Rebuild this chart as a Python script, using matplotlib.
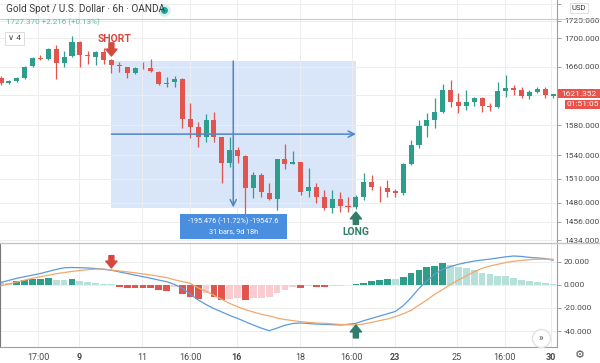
import matplotlib
matplotlib.use('Agg')
import matplotlib.pyplot as plt
from matplotlib.patches import Rectangle
from matplotlib.lines import Line2D
from matplotlib.ticker import FuncFormatter, NullLocator, FixedLocator

plt.rcParams['font.family'] = ['Roboto', 'DejaVu Sans']

# Gold Spot / USD, 6h candles (OANDA)
opens = [1644.0, 1637.5, 1639.8, 1644.0, 1660.7, 1672.0, 1670.6, 1684.7, 1664.9, 1674.8,
         1694.7, 1676.2, 1673.4, 1680.5, 1669.2, 1662.1, 1659.3, 1650.9, 1657.9, 1657.9,
         1652.3, 1635.7, 1638.4, 1642.6, 1588.1, 1577.4, 1564.1, 1586.7, 1564.1, 1530.2,
         1547.1, 1539.3, 1498.3, 1514.8, 1492.0, 1484.5, 1535.4, 1529.0, 1531.5, 1494.5,
         1499.6, 1487.0, 1473.2, 1484.5, 1475.7, 1474.5, 1487.0, 1505.9, 1499.6, 1498.3,
         1494.5, 1492.0, 1528.9, 1553.6, 1578.7, 1586.7, 1597.5, 1627.4, 1611.0, 1605.6,
         1611.0, 1616.4, 1605.6, 1604.2, 1626.0, 1630.2, 1627.4, 1619.2, 1624.6, 1628.8,
         1619.9]
highs = [1646.8, 1641.0, 1645.4, 1660.7, 1673.4, 1676.0, 1686.1, 1690.4, 1682.0, 1703.0,
         1696.0, 1681.9, 1681.9, 1686.1, 1670.6, 1666.3, 1660.0, 1659.3, 1666.3, 1670.6,
         1653.7, 1645.4, 1646.8, 1644.0, 1609.6, 1584.0, 1594.8, 1597.5, 1564.5, 1564.1,
         1551.0, 1540.6, 1518.6, 1517.4, 1504.6, 1536.0, 1555.0, 1545.8, 1532.0, 1523.8,
         1504.6, 1495.8, 1495.8, 1493.3, 1487.0, 1489.0, 1517.4, 1514.8, 1500.5, 1508.4,
         1497.1, 1530.2, 1560.2, 1586.7, 1596.1, 1616.4, 1635.7, 1641.2, 1623.3, 1627.4,
         1617.8, 1617.8, 1609.6, 1638.4, 1648.0, 1634.3, 1631.5, 1627.4, 1631.5, 1631.5,
         1622.5]
lows = [1634.3, 1636.0, 1638.4, 1643.0, 1659.3, 1669.0, 1669.2, 1642.6, 1659.0, 1673.4,
        1659.3, 1663.5, 1662.1, 1663.5, 1650.9, 1652.3, 1644.0, 1649.5, 1656.5, 1652.3,
        1634.3, 1631.5, 1631.5, 1576.0, 1562.8, 1551.0, 1557.5, 1557.5, 1504.6, 1525.1,
        1530.2, 1462.1, 1485.7, 1487.0, 1483.2, 1470.8, 1522.5, 1528.5, 1489.5, 1487.0,
        1479.5, 1470.8, 1467.1, 1468.3, 1468.3, 1472.0, 1483.2, 1495.8, 1480.7, 1487.0,
        1487.0, 1489.5, 1527.6, 1549.7, 1564.1, 1576.0, 1596.1, 1604.2, 1596.1, 1600.2,
        1605.6, 1597.5, 1598.8, 1603.0, 1617.8, 1620.5, 1616.4, 1615.1, 1623.3, 1616.4,
        1616.4]
closes = [1637.1, 1640.0, 1644.0, 1659.3, 1672.0, 1670.6, 1684.7, 1664.9, 1673.4, 1694.7,
          1676.2, 1674.8, 1680.5, 1669.2, 1662.1, 1660.7, 1650.9, 1657.9, 1657.4, 1653.7,
          1635.7, 1637.1, 1642.6, 1588.1, 1577.4, 1564.1, 1586.7, 1564.1, 1530.2, 1547.1,
          1539.3, 1498.3, 1514.8, 1493.3, 1484.5, 1535.4, 1528.9, 1531.5, 1493.3, 1499.6,
          1487.0, 1473.2, 1484.5, 1475.7, 1474.5, 1487.0, 1505.9, 1499.6, 1499.0, 1493.3,
          1492.0, 1528.9, 1553.6, 1578.7, 1586.7, 1597.5, 1627.4, 1611.0, 1605.6, 1611.0,
          1616.4, 1605.6, 1604.2, 1626.0, 1630.2, 1627.4, 1619.2, 1624.6, 1628.8, 1620.5,
          1621.352]

# MACD panel
macd = [2.3, 4.0, 5.8, 7.2, 8.6, 10.0, 11.8, 13.5, 15.0, 15.2,
        15.0, 14.8, 14.3, 13.6, 12.8, 11.4, 10.0, 8.6, 7.2, 5.8,
        4.3, 2.9, 0.5, -2.9, -8.0, -13.0, -17.0, -20.5, -23.5, -26.5,
        -29.0, -32.0, -34.8, -37.5, -39.7, -37.5, -35.0, -33.5, -33.0, -33.5,
        -34.0, -34.2, -34.5, -34.8, -34.2, -33.3, -31.0, -29.0, -27.0, -25.0,
        -23.0, -18.0, -11.0, -3.0, 3.5, 9.5, 13.5, 16.0, 18.0, 19.5,
        20.8, 21.7, 22.5, 23.5, 24.5, 25.2, 24.8, 24.0, 23.5, 23.0,
        21.5]
signal = [-0.6, 1.0, 2.6, 4.2, 5.8, 7.2, 8.5, 9.8, 10.8, 11.8,
          12.6, 13.3, 13.8, 13.9, 13.0, 12.2, 11.4, 10.6, 9.6, 8.7,
          7.6, 6.4, 4.5, 3.0, 1.5, -2.5, -5.5, -9.0, -12.5, -16.0,
          -18.9, -21.5, -23.5, -25.5, -26.8, -28.8, -30.0, -31.0, -31.9, -32.5,
          -33.0, -33.3, -33.8, -34.3, -34.6, -34.8, -33.8, -32.5, -31.0, -29.5,
          -27.5, -25.0, -22.0, -17.5, -13.0, -8.0, -4.0, 0.5, 4.3, 8.0,
          11.5, 14.5, 16.5, 18.0, 19.5, 20.6, 21.4, 22.0, 22.4, 22.5,
          22.4]
hist = [2.5, 2.0, 3.2, 4.3, 5.0, 5.3, 6.1, 4.6, 4.3, 5.2,
        3.2, 2.3, 1.7, 1.2, 0.5, -1.4, -2.4, -2.6, -2.7, -2.8,
        -4.3, -5.5, -2.0, -7.8, -10.7, -12.2, -7.2, -10.7, -12.8, -12.2,
        -11.6, -12.8, -11.3, -11.0, -10.7, -7.2, -4.3, -1.8, -2.2, -1.2,
        -1.4, -2.0, -1.0, -0.6, -0.3, 0.6, 1.7, 3.2, 4.3, 5.4,
        5.1, 7.2, 10.1, 13.3, 15.4, 16.8, 18.8, 17.7, 15.9, 14.8,
        13.0, 10.7, 9.6, 8.1, 7.5, 6.1, 4.6, 3.8, 2.3, 1.7,
        0.9]

tick_pos = [4.7, 9.9, 17.9, 24.0, 29.9, 37.9, 44.5, 50.0, 57.8, 63.9, 69.7]
tick_labels = ['17:00', '9', '11', '16:00', '16', '18', '16:00', '23', '25', '16:00', '30']
bold_labels = ['9', '16', '23', '30']

price_ticks = [1750, 1725, 1700, 1660, 1620, 1580, 1540, 1510, 1480, 1456, 1434]
hidden_price_labels = [1750, 1620]   # covered by the USD box and the last-price tag
macd_ticks = [20, 0, -20, -40]

last_price = 1621.352
header_price = 1727.37
short_bar = 14
long_bar = 45
measure_top, measure_bottom, measure_mid = 1667.7, 1473.2, 1568.0

UP, DOWN = '#2e9e8c', '#e2554e'
UP_LIGHT, DOWN_LIGHT = '#b6e0da', '#f9cdd0'
GRID = '#ededed'
AXIS_TXT = '#4a4a4a'
MEASURE = '#4f86c8'

W, H = 600, 363


def fx(px):
    return px / W


def fy(py):
    return 1 - py / H


def price_fmt(v, _):
    if round(v) in hidden_price_labels:
        return ''
    return f'{v:.3f}'


fig = plt.figure(figsize=(6, 3.63), dpi=100)
ax = fig.add_axes([0, fy(242), fx(557), 242 / H])
ax2 = fig.add_axes([0, fy(347), fx(557), (347 - 243) / H])

x = list(range(len(opens)))

# --- candles ---
colors = [UP if c >= o else DOWN for o, c in zip(opens, closes)]
bottoms = [min(o, c) for o, c in zip(opens, closes)]
heights = [max(abs(c - o), 0.9) for o, c in zip(opens, closes)]
ax.vlines(x, lows, highs, colors=colors, lw=0.9, zorder=3)
ax.bar(x, heights, bottom=bottoms, width=0.64, color=colors, linewidth=0, zorder=4)

ax.set_yscale('log')
ax.set_ylim(1431.6, 1755.8)
ax.set_xlim(-0.127, 70.5)
ax.yaxis.set_major_locator(FixedLocator(price_ticks))
ax.yaxis.set_minor_locator(NullLocator())
ax.yaxis.set_major_formatter(FuncFormatter(price_fmt))
ax.yaxis.tick_right()
ax.tick_params(axis='y', labelsize=6, labelcolor=AXIS_TXT, color='#9e9e9e', length=3, width=0.7, pad=2)
ax.set_xticks(tick_pos)
ax.tick_params(axis='x', length=0, labelbottom=False)
ax.grid(True, color=GRID, lw=0.7, zorder=0)
for s in ['top', 'left', 'bottom']:
    ax.spines[s].set_visible(False)
ax.spines['right'].set_color('#9e9e9e')
ax.spines['right'].set_linewidth(0.8)

# last price line of header
ax.axhline(header_price, xmax=W / 557, color='#a6dcd4', lw=0.8, clip_on=False, zorder=2)

# measurement tool
ax.add_patch(Rectangle((short_bar, measure_bottom), long_bar - short_bar, measure_top - measure_bottom,
                       facecolor='#d9e5f8', edgecolor='none', zorder=1))
mid_x = (short_bar + long_bar) / 2 - 0.05
ax.annotate('', xy=(mid_x, measure_bottom + 0.8), xytext=(mid_x, measure_top),
            arrowprops=dict(arrowstyle='->', color=MEASURE, lw=1.1, shrinkA=0, shrinkB=0, mutation_scale=11),
            zorder=5)
ax.annotate('', xy=(long_bar, measure_mid), xytext=(short_bar, measure_mid),
            arrowprops=dict(arrowstyle='->', color=MEASURE, lw=1.1, shrinkA=0, shrinkB=0, mutation_scale=11),
            zorder=5)

# SHORT / LONG marks
ax.text(short_bar + 0.4, 1699, 'SHORT', ha='center', va='center', fontsize=7.5,
        fontweight='bold', color='#d5483e', zorder=6)
ax.annotate('', xy=(short_bar, 1674.8), xytext=(short_bar, 1693.5),
            arrowprops=dict(arrowstyle='simple,head_length=0.55,head_width=0.9,tail_width=0.4',
                            color='#d5483e', shrinkA=0, shrinkB=0, mutation_scale=9), zorder=6)
ax.text(long_bar, 1443.7, 'LONG', ha='center', va='center', fontsize=7.5,
        fontweight='bold', color='#2f7d6a', zorder=6)
ax.annotate('', xy=(long_bar, 1468.3), xytext=(long_bar, 1453.0),
            arrowprops=dict(arrowstyle='simple,head_length=0.55,head_width=0.9,tail_width=0.4',
                            color='#2f7d6a', shrinkA=0, shrinkB=0, mutation_scale=9), zorder=6)

# --- MACD panel ---
hist_colors = []
prev = 3.0
for h in hist:
    if h >= 0:
        hist_colors.append(UP if h >= prev else UP_LIGHT)
    else:
        hist_colors.append(DOWN if h <= prev else DOWN_LIGHT)
    prev = h
ax2.bar(x, hist, width=0.86, color=hist_colors, linewidth=0, zorder=2)
ax2.plot(x, macd, color='#5b9bdc', lw=0.9, zorder=3)
ax2.plot(x, signal, color='#f0a86c', lw=0.9, zorder=3)
ax2.set_xlim(-0.127, 70.5)
ax2.set_ylim(-53.9, 36.5)
ax2.yaxis.tick_right()
ax2.set_yticks(macd_ticks)
ax2.yaxis.set_major_formatter(FuncFormatter(lambda v, _: f'{v:.3f}'))
ax2.tick_params(axis='y', labelsize=6, labelcolor=AXIS_TXT, color='#9e9e9e', length=3, width=0.7, pad=2)
ax2.set_xticks(tick_pos)
ax2.set_xticklabels(tick_labels)
ax2.tick_params(axis='x', length=0, labelsize=6.5, labelcolor=AXIS_TXT, pad=4)
for lbl in ax2.get_xticklabels():
    if lbl.get_text() in bold_labels:
        lbl.set_fontweight('bold')
ax2.grid(True, color=GRID, lw=0.7, zorder=0)
ax2.spines['top'].set_visible(False)
ax2.spines['left'].set_color('#777777')
ax2.spines['right'].set_color('#9e9e9e')
ax2.spines['bottom'].set_color('#9e9e9e')
for s in ['left', 'right', 'bottom']:
    ax2.spines[s].set_linewidth(0.8)

ax2.annotate('', xy=(short_bar, 14.8), xytext=(short_bar, 25.5),
             arrowprops=dict(arrowstyle='simple,head_length=0.55,head_width=0.9,tail_width=0.4',
                             color='#d5483e', shrinkA=0, shrinkB=0, mutation_scale=9), zorder=6)
ax2.annotate('', xy=(long_bar, -34.8), xytext=(long_bar, -46.0),
             arrowprops=dict(arrowstyle='simple,head_length=0.55,head_width=0.9,tail_width=0.4',
                             color='#2f7d6a', shrinkA=0, shrinkB=0, mutation_scale=9), zorder=6)

# panel separator
fig.add_artist(Line2D([0, 1], [fy(242.5), fy(242.5)], color='#c4c4c4', lw=1.0))

# --- header ---
fig.text(fx(6), fy(9.5), 'Gold Spot / U.S. Dollar \u00b7 6h \u00b7 OANDA', fontsize=7.2,
         color='#3a3a3a', va='center')
fig.add_artist(Line2D([fx(164)], [fy(9.5)], marker='o', markersize=8, color='#d8f0ec', lw=0))
fig.add_artist(Line2D([fx(164)], [fy(9.5)], marker='o', markersize=4, color='#26a69a', lw=0))
fig.text(fx(6), fy(22.5), '1727.370 +2.216 (+0.13%)', fontsize=5.8, color='#5fb8ab', va='center')
fig.add_artist(Rectangle((fx(5), fy(45)), 19 / W, 13 / H, transform=fig.transFigure,
                         facecolor='white', edgecolor='#dddddd', lw=0.7))
fig.text(fx(14.5), fy(38.5), '\u2228 4', fontsize=6, color='#444444', ha='center', va='center')

# right-axis tags
fig.add_artist(Rectangle((fx(570), fy(12.5)), 18 / W, 10 / H, transform=fig.transFigure,
                         facecolor='white', edgecolor='#d8d8d8', lw=0.6))
fig.text(fx(579), fy(7.5), 'USD', fontsize=5.5, color='#333333', ha='center', va='center')
fig.add_artist(Rectangle((fx(558), fy(98)), 42 / W, 9 / H, transform=fig.transFigure,
                         facecolor='#e8534b', edgecolor='none'))
fig.text(fx(579), fy(93.5), f'{last_price:.3f}', fontsize=6, color='white', ha='center', va='center')
fig.add_artist(Rectangle((fx(565), fy(109)), 35 / W, 9 / H, transform=fig.transFigure,
                         facecolor='#e8534b', edgecolor='none'))
fig.text(fx(582.5), fy(104.5), '01:51:05', fontsize=6, color='white', ha='center', va='center')

# measurement label
fig.add_artist(Rectangle((fx(180), fy(239)), 107 / W, 25 / H, transform=fig.transFigure,
                         facecolor='#4a8ee0', edgecolor='none'))
fig.text(fx(233.5), fy(221.5), '-195.476 (-11.72%) -19547.6', fontsize=5.2, color='white',
         ha='center', va='center')
fig.text(fx(233.5), fy(232), '31 bars, 9d 18h', fontsize=5.2, color='white', ha='center', va='center')

# chart buttons
fig.add_artist(Line2D([fx(541)], [fy(338)], marker='o', markersize=13, markerfacecolor='white',
                      markeredgecolor='#e2e2e2', lw=0))
fig.text(fx(541), fy(338.5), '\u00bb', fontsize=7, color='#555555', ha='center', va='center')
fig.text(fx(580), fy(355), '\u2699', fontsize=8, color='#555555', ha='center', va='center',
         family=['DejaVu Sans'])

fig.savefig('out.png', dpi=100)
